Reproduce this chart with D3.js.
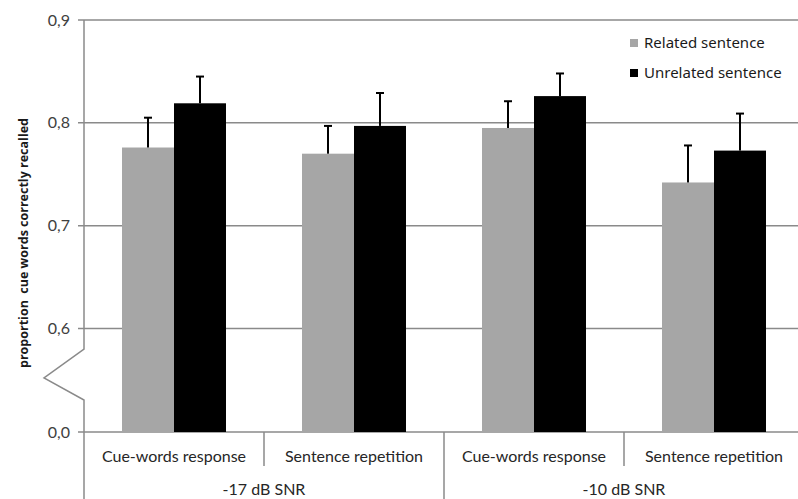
<!DOCTYPE html>
<html>
<head>
<meta charset="utf-8">
<script src="https://cdn.jsdelivr.net/npm/d3@7"></script>
<style>
  html, body { margin: 0; padding: 0; background: #fff; }
  svg { display: block; }
</style>
</head>
<body>
<svg id="chart" width="798" height="499"></svg>
<script>
// Recall data: proportion of cue words correctly recalled
const conditions = ["-17 dB SNR", "-10 dB SNR"];
const tasks = ["Cue-words response", "Sentence repetition", "Cue-words response", "Sentence repetition"];
const seriesNames = ["Related sentence", "Unrelated sentence"];
const related = [0.776, 0.770, 0.795, 0.742];
const relatedErr = [0.029, 0.027, 0.026, 0.036];
const unrelated = [0.819, 0.797, 0.826, 0.773];
const unrelatedErr = [0.026, 0.032, 0.022, 0.036];
const yTicks = [0, 0.6, 0.7, 0.8, 0.9];

(function () {
const svg = d3.select("#chart");
const axisColor = "#8a8a8a";
const colors = ["#a6a6a6", "#000000"];
const labelFont = "Lato, 'Open Sans', sans-serif";

const plotLeft = 84, plotRight = 804, plotTop = 20, plotBottom = 432;

// Broken axis: 0 to 0.6 is compressed into a single step
const y = d3.scaleLinear().domain([0, 0.6, 0.9]).range([plotBottom, 328.5, plotTop]);

const x = d3.scaleBand().domain(d3.range(tasks.length)).range([plotLeft, plotRight]);
const xs = d3.scaleBand().domain([0, 1]).range([0, x.bandwidth()]).paddingOuter(0.731);

const fmt = v => d3.format(".1f")(v).replace(".", ",");

// Horizontal gridlines and ticks
svg.append("g").selectAll("line").data(yTicks).join("line")
  .attr("x1", plotLeft - 6).attr("x2", plotRight)
  .attr("y1", d => y(d)).attr("y2", d => y(d))
  .attr("stroke", axisColor).attr("stroke-width", 1.5);

svg.append("g").selectAll("text").data(yTicks).join("text")
  .attr("x", 70).attr("y", d => y(d)).attr("dy", "0.35em")
  .attr("text-anchor", "end")
  .attr("font-family", labelFont).attr("font-size", 16)
  .attr("fill", "#404040")
  .text(fmt);

// Vertical axis with the break mark
const brk = y(0.6) + 20.5;
svg.append("path")
  .attr("d", `M${plotLeft},${plotTop}V${brk}L44,${brk + 29}L${plotLeft},${brk + 51}V499`)
  .attr("fill", "none").attr("stroke", axisColor).attr("stroke-width", 1.5);

// Bars
const series = [
  { values: related, err: relatedErr },
  { values: unrelated, err: unrelatedErr }
];
series.forEach((s, si) => {
  svg.append("g").selectAll("rect").data(s.values).join("rect")
    .attr("x", (d, i) => x(i) + xs(si))
    .attr("width", xs.bandwidth())
    .attr("y", d => y(d))
    .attr("height", d => y(0) - y(d))
    .attr("fill", colors[si]);
});

// Upper error bars
series.forEach((s, si) => {
  const g = svg.append("g").attr("stroke", "#000").attr("stroke-width", 2);
  s.values.forEach((v, i) => {
    const cx = x(i) + xs(si) + xs.bandwidth() / 2;
    const yt = y(v + s.err[i]);
    g.append("line").attr("x1", cx).attr("x2", cx).attr("y1", y(v)).attr("y2", yt);
    g.append("line").attr("x1", cx - 4).attr("x2", cx + 4).attr("y1", yt).attr("y2", yt);
  });
});

// Category separators below the axis
svg.append("g").selectAll("line").data(d3.range(1, tasks.length)).join("line")
  .attr("x1", i => x(i)).attr("x2", i => x(i))
  .attr("y1", plotBottom).attr("y2", i => i % 2 === 0 ? 499 : 466)
  .attr("stroke", axisColor).attr("stroke-width", 1.5);

// Task labels
svg.append("g").selectAll("text").data(tasks).join("text")
  .attr("x", (d, i) => x(i) + x.bandwidth() / 2).attr("y", 462)
  .attr("text-anchor", "middle")
  .attr("font-family", labelFont).attr("font-size", 16).attr("fill", "#262626")
  .text(d => d);

// Condition labels
svg.append("g").selectAll("text").data(conditions).join("text")
  .attr("x", (d, i) => x(i * 2) + x.bandwidth()).attr("y", 495)
  .attr("text-anchor", "middle")
  .attr("font-family", labelFont).attr("font-size", 16).attr("fill", "#262626")
  .text(d => d);

// Y axis title
svg.append("text")
  .attr("transform", "translate(28,243) rotate(-90)")
  .attr("text-anchor", "middle")
  .attr("font-family", "'Open Sans', sans-serif").attr("font-size", 12.5).attr("font-weight", "bold")
  .attr("fill", "#1a1a1a")
  .style("white-space", "pre")
  .text("proportion  cue words correctly recalled");

// Legend
const legend = svg.append("g").attr("transform", "translate(630,43)");
seriesNames.forEach((name, i) => {
  const row = legend.append("g").attr("transform", `translate(0,${i * 30})`);
  row.append("rect").attr("x", 0).attr("y", -4).attr("width", 8).attr("height", 8).attr("fill", colors[i]);
  row.append("text").attr("x", 14).attr("y", 0).attr("dy", "0.35em")
    .attr("font-family", "'Noto Sans', sans-serif").attr("font-size", 15).attr("fill", "#1a1a1a")
    .text(name);
});
})();
</script>
</body>
</html>
